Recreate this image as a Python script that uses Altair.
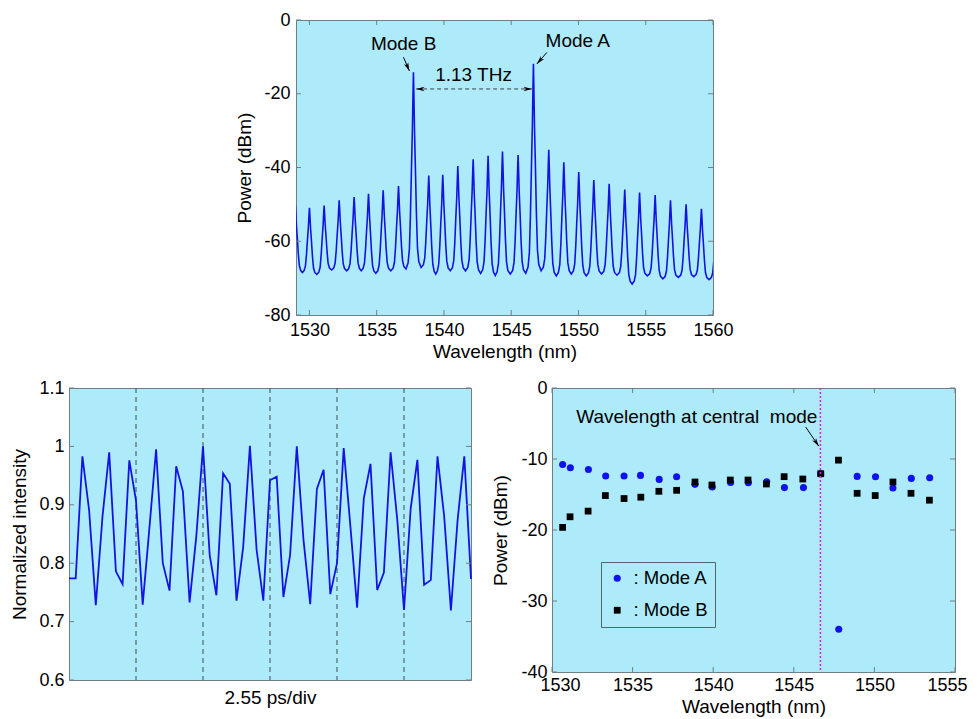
import altair as alt
import pandas as pd

FONT = "Liberation Sans"
BG = "#AEEBFA"
FRAME = "#6f7f86"
BLUE = "#1414E2"
ARROW = "M0,0 L-0.55,2 L0,1.45 L0.55,2 Z"

# ---------------- top panel: optical spectrum ----------------
peak_wl = [1528.95, 1530.00, 1531.09, 1532.21, 1533.32, 1534.39, 1535.48, 1536.62,
           1537.73, 1538.87, 1539.91, 1541.03, 1542.17, 1543.28, 1544.35, 1545.51,
           1546.65, 1547.79, 1548.91, 1550.02, 1551.14, 1552.28, 1553.44, 1554.54,
           1555.70, 1556.84, 1558.00, 1559.14, 1560.28]
peak_db = [-50.0, -50.9, -50.3, -48.9, -48.0, -47.1, -46.2, -45.0,
           -14.2, -42.2, -42.0, -39.6, -37.8, -36.8, -35.7, -36.6,
           -11.9, -35.2, -38.6, -41.2, -43.4, -44.4, -46.0, -46.8,
           -47.5, -48.9, -50.0, -51.2, -52.0]
valley_db = [-68.5, -69.0, -67.8, -68.0, -68.0, -68.7, -68.0, -67.5,
             -67.1, -68.9, -68.0, -68.0, -68.7, -69.3, -68.9, -68.7,
             -68.0, -69.4, -68.9, -69.4, -68.9, -69.2, -71.6, -69.4,
             -70.2, -69.8, -69.6, -70.4]
# shape of one comb line: offset from the peak (nm) and
# fraction of the peak height above the floor
profile_offset = [0.0, 0.03, 0.08, 0.15, 0.22, 0.30, 0.40]
profile_frac = [1.0, 0.90, 0.70, 0.50, 0.28, 0.10, 0.03]

top_xticks = [1530, 1535, 1540, 1545, 1550, 1555, 1560]
top_yticks = [-80, -60, -40, -20, 0]

top_text_x = [1537.0, 1549.95, 1542.2]
top_text_y = [-6.5, -5.7, -14.8]
top_text = ["Mode B", "Mode A", "1.13 THz"]
top_arrow_x = [1536.99, 1547.65]
top_arrow_y = [-10.1, -8.8]
top_arrow_x2 = [1537.43, 1546.91]
top_arrow_y2 = [-13.8, -11.9]
top_arrow_angle = [156.5, 221.3]
span_x = [1537.93, 1546.54]
span_y = -18.7

# ---------------- bottom left: intensity trace ----------------
intensity = [0.774, 0.774, 0.983, 0.891, 0.728, 0.880, 0.990, 0.786, 0.764, 0.976,
             0.907, 0.729, 0.860, 0.995, 0.800, 0.753, 0.966, 0.923, 0.733, 0.846,
             1.000, 0.814, 0.745, 0.954, 0.936, 0.736, 0.828, 1.001, 0.823, 0.736,
             0.942, 0.948, 0.742, 0.814, 1.000, 0.840, 0.730, 0.927, 0.960, 0.747,
             0.800, 0.997, 0.863, 0.724, 0.911, 0.970, 0.754, 0.784, 0.990, 0.874,
             0.720, 0.894, 0.977, 0.763, 0.771, 0.983, 0.880, 0.719, 0.874, 0.983,
             0.773]
sample_ps = 0.255
div_ps = [2.55, 5.10, 7.65, 10.20, 12.75]
bl_yticks = [0.6, 0.7, 0.8, 0.9, 1.0, 1.1]

# ---------------- bottom right: mode powers ----------------
modeA_wl = [1530.66, 1531.14, 1532.26, 1533.33, 1534.47, 1535.49, 1536.65, 1537.73,
            1538.87, 1539.94, 1541.08, 1542.18, 1543.32, 1544.42, 1545.60, 1546.67,
            1547.79, 1548.93, 1550.07, 1551.15, 1552.29, 1553.43]
modeA_db = [-10.77, -11.24, -11.47, -12.40, -12.40, -12.31, -12.87, -12.49,
            -13.57, -13.94, -13.30, -13.33, -13.20, -14.03, -14.03, -12.10,
            -33.99, -12.45, -12.49, -14.08, -12.73, -12.63]
modeB_wl = [1530.66, 1531.12, 1532.24, 1533.31, 1534.47, 1535.51, 1536.63, 1537.73,
            1538.87, 1539.92, 1541.06, 1542.16, 1543.30, 1544.40, 1545.56, 1546.67,
            1547.77, 1548.93, 1550.05, 1551.15, 1552.27, 1553.41]
modeB_db = [-19.63, -18.14, -17.34, -15.15, -15.57, -15.38, -14.55, -14.41,
            -13.24, -13.66, -12.96, -12.96, -13.52, -12.49, -12.82, -12.07,
            -10.16, -14.83, -15.15, -13.24, -14.83, -15.80]
central_wl = 1546.65
br_xticks = [1530, 1535, 1540, 1545, 1550, 1555]
br_yticks = [-40, -30, -20, -10, 0]
br_text = "Wavelength at central\u00a0 mode"
br_text_x, br_text_y = 1531.5, -4.1
br_arrow = (1545.74, -5.5, 1546.55, -8.2, 145.8)


def ax(title, values, lp=5, tp=8, labels=True, **kw):
    return alt.Axis(title=title, values=values, labelPadding=lp, titlePadding=tp,
                    labels=labels, labelExpr="'' + datum.value", labelOverlap=False, **kw)


def frame_ticks(xticks, yticks, X, Y, w, h, L=5):
    layers = []
    if xticks:
        d = pd.DataFrame({"t": xticks})
        for y0, y1 in [(h, h - L), (0, L)]:
            layers.append(alt.Chart(d).mark_rule(color=FRAME, strokeWidth=1).encode(
                x=X("t"), y=alt.value(y0), y2=alt.value(y1)))
    if yticks:
        d = pd.DataFrame({"t": yticks})
        for x0, x1 in [(0, L), (w, w - L)]:
            layers.append(alt.Chart(d).mark_rule(color=FRAME, strokeWidth=1).encode(
                y=Y("t"), x=alt.value(x0), x2=alt.value(x1)))
    return layers


# ---- build spectrum trace from read peaks / floors ----
pts = []
for i, (wp, hp) in enumerate(zip(peak_wl, peak_db)):
    fl = valley_db[i - 1] if i > 0 else valley_db[0]
    fr = valley_db[i] if i < len(valley_db) else valley_db[-1]
    for o, f in zip(profile_offset, profile_frac):
        if o == 0:
            pts.append((wp, hp))
        else:
            pts.append((wp - o, fl + f * (hp - fl)))
            pts.append((wp + o, fr + f * (hp - fr)))
    if i < len(valley_db):
        pts.append(((wp + peak_wl[i + 1]) / 2, valley_db[i]))
pts.sort()
spec = pd.DataFrame(pts, columns=["wl", "db"])

# ---------------- top chart ----------------
TW, TH = 417, 295
txs = alt.Scale(domain=[1529, 1560], nice=False, zero=False)
tys = alt.Scale(domain=[-80, 0], nice=False, zero=False)
t_xax = ax("Wavelength (nm)", top_xticks, lp=6, tp=3)
t_yax = ax("Power (dBm)", top_yticks, lp=6, tp=9)


def TX(f):
    return alt.X(f + ":Q", scale=txs, axis=t_xax)


def TY(f):
    return alt.Y(f + ":Q", scale=tys, axis=t_yax)


top_line = alt.Chart(spec).mark_line(color=BLUE, strokeWidth=1.6, clip=True).encode(
    x=TX("wl"), y=TY("db"))
tl = pd.DataFrame({"x": top_text_x, "y": top_text_y, "t": top_text})
top_txt = alt.Chart(tl).mark_text(font=FONT, fontSize=19, color="black").encode(
    x=TX("x"), y=TY("y"), text="t:N")
ta = pd.DataFrame({"x": top_arrow_x, "y": top_arrow_y, "x2": top_arrow_x2,
                   "y2": top_arrow_y2, "a": top_arrow_angle})
top_shaft = alt.Chart(ta).mark_rule(color="black", strokeWidth=1).encode(
    x=TX("x"), y=TY("y"), x2="x2:Q", y2="y2:Q")
top_head = alt.Chart(ta).mark_point(shape=ARROW, filled=True, color="black", size=70,
                                    opacity=1).encode(
    x=TX("x2"), y=TY("y2"), angle=alt.Angle("a:Q", scale=None))
sp = pd.DataFrame({"x": [span_x[0]], "x2": [span_x[1]], "y": [span_y]})
span_line = alt.Chart(sp).mark_rule(color="#404040", strokeWidth=1, strokeDash=[4, 3]).encode(
    x=TX("x"), x2="x2:Q", y=TY("y"))
sh = pd.DataFrame({"x": span_x, "y": [span_y, span_y], "a": [270, 90]})
span_head = alt.Chart(sh).mark_point(shape=ARROW, filled=True, color="black", size=70,
                                     opacity=1).encode(
    x=TX("x"), y=TY("y"), angle=alt.Angle("a:Q", scale=None))

top = alt.layer(top_line, *frame_ticks(top_xticks, top_yticks, TX, TY, TW, TH),
                top_txt, top_shaft, top_head, span_line, span_head).properties(
    width=TW, height=TH, view=alt.ViewBackground(fill=BG, stroke=FRAME, strokeWidth=1))

# ---------------- bottom left ----------------
BLW, BLH = 402, 292
bl_df = pd.DataFrame({"t": [i * sample_ps for i in range(len(intensity))], "v": intensity})
bxs = alt.Scale(domain=[0, 15.3], nice=False, zero=False)
bys = alt.Scale(domain=[0.6, 1.1], nice=False, zero=False)
b_xax = ax("2.55 ps/div", div_ps, lp=0, tp=8, labels=False)
b_yax = ax("Normalized intensity", bl_yticks, lp=5, tp=9)


def BX(f):
    return alt.X(f + ":Q", scale=bxs, axis=b_xax)


def BY(f):
    return alt.Y(f + ":Q", scale=bys, axis=b_yax)


bl_grid = alt.Chart(pd.DataFrame({"t": div_ps})).mark_rule(
    color="#3d4d55", strokeWidth=1, strokeDash=[5, 4]).encode(x=BX("t"))
bl_line = alt.Chart(bl_df).mark_line(color=BLUE, strokeWidth=1.8).encode(
    x=BX("t"), y=BY("v"))
bl = alt.layer(bl_grid, bl_line, *frame_ticks([], bl_yticks, BX, BY, BLW, BLH)).properties(
    width=BLW, height=BLH, view=alt.ViewBackground(fill=BG, stroke=FRAME, strokeWidth=1))

# ---------------- bottom right ----------------
BRW, BRH = 403, 284
rxs = alt.Scale(domain=[1530, 1555], nice=False, zero=False)
rys = alt.Scale(domain=[-40, 0], nice=False, zero=False)
r_xax = ax("Wavelength (nm)", br_xticks, lp=4, tp=3, labelFlush=True, labelFlushOffset=12)
r_yax = ax("Power (dBm)", br_yticks, lp=5, tp=10)


def RX(f):
    return alt.X(f + ":Q", scale=rxs, axis=r_xax)


def RY(f):
    return alt.Y(f + ":Q", scale=rys, axis=r_yax)


sc = pd.DataFrame({
    "wl": modeA_wl + modeB_wl,
    "db": modeA_db + modeB_db,
    "mode": ["Mode A"] * len(modeA_wl) + ["Mode B"] * len(modeB_wl),
})
pts_layer = alt.Chart(sc).mark_point(filled=True, opacity=1).encode(
    x=RX("wl"), y=RY("db"),
    color=alt.Color("mode:N", scale=alt.Scale(domain=["Mode A", "Mode B"],
                                              range=["#1010F0", "#000000"]),
                    legend=alt.Legend(orient="none", legendX=532, legendY=542, title=None,
                                      fillColor=BG, strokeColor="#55656c", padding=7,
                                      rowPadding=13, labelFontSize=18.5, labelFont=FONT,
                                      labelColor="black", symbolSize=100,
                                      symbolStrokeWidth=0, labelOffset=7,
                                      labelExpr="': ' + datum.label + '\u00a0\u00a0'")),
    shape=alt.Shape("mode:N", scale=alt.Scale(domain=["Mode A", "Mode B"],
                                              range=["circle", "square"])),
    size=alt.Size("mode:N", scale=alt.Scale(domain=["Mode A", "Mode B"], range=[50, 46]),
                  legend=None),
)
central = alt.Chart(pd.DataFrame({"x": [central_wl]})).mark_rule(
    color="#D62AD6", strokeWidth=1.6, strokeDash=[2, 2]).encode(x=RX("x"))
br_t = alt.Chart(pd.DataFrame({"x": [br_text_x], "y": [br_text_y], "t": [br_text]})).mark_text(
    font=FONT, fontSize=19, color="black", align="left").encode(
    x=RX("x"), y=RY("y"), text="t:N")
ba = pd.DataFrame({"x": [br_arrow[0]], "y": [br_arrow[1]], "x2": [br_arrow[2]],
                   "y2": [br_arrow[3]], "a": [br_arrow[4]]})
br_shaft = alt.Chart(ba).mark_rule(color="black", strokeWidth=1).encode(
    x=RX("x"), y=RY("y"), x2="x2:Q", y2="y2:Q")
br_head = alt.Chart(ba).mark_point(shape=ARROW, filled=True, color="black", size=70,
                                   opacity=1).encode(
    x=RX("x2"), y=RY("y2"), angle=alt.Angle("a:Q", scale=None))
br = alt.layer(pts_layer, central, br_t, br_shaft, br_head,
               *frame_ticks(br_xticks, br_yticks, RX, RY, BRW, BRH)).properties(
    width=BRW, height=BRH, view=alt.ViewBackground(fill=BG, stroke=FRAME, strokeWidth=1))

spacer = alt.Chart(pd.DataFrame({"a": [0]})).mark_point(opacity=0).properties(
    width=141, height=10, view=alt.ViewBackground(fill="transparent", stroke="transparent"))

chart = alt.vconcat(
    alt.hconcat(spacer, top, spacing=24),
    alt.hconcat(bl, br, spacing=15),
    spacing=16,
).properties(
    padding={"left": 2, "top": 2, "right": 0, "bottom": 0}
).configure(font=FONT).configure_axis(
    labelFont=FONT, titleFont=FONT, labelColor="black", titleColor="black",
    titleFontWeight="normal", labelFontSize=18, titleFontSize=19,
    grid=False, ticks=False, domain=False, labelFlush=False,
).configure_view(stroke="transparent")

chart.save("out.html", embed_options={"renderer": "svg", "actions": False})
